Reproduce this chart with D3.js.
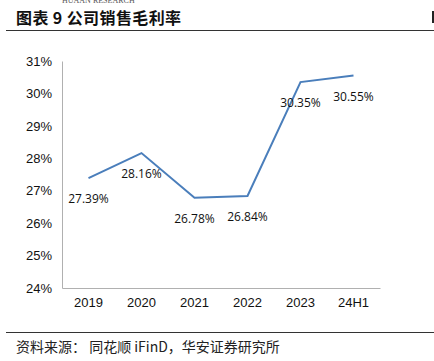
<!DOCTYPE html>
<html>
<head>
<meta charset="utf-8">
<script src="https://cdn.jsdelivr.net/npm/d3@7"></script>
<style>
  body { margin: 0; background: #fff; }
  svg { display: block; }
</style>
</head>
<body>
<svg id="chart" width="434" height="361"></svg>
<script>
// data
const years = ["2019", "2020", "2021", "2022", "2023", "24H1"];
const margins = [27.39, 28.16, 26.78, 26.84, 30.35, 30.55];
const yTicks = [24, 25, 26, 27, 28, 29, 30, 31];

const svg = d3.select("#chart");
const W = 434, H = 361;
const plot = { left: 62, right: 380, top: 61, bottom: 288 };

const cjk = "'Noto Sans CJK SC', sans-serif";
const latin = "'Liberation Sans', Arial, sans-serif";

// header (logo text is clipped by the top edge in the original too)
svg.append("text")
    .attr("x", 62).attr("y", 3)
    .attr("font-family", "'Liberation Serif', serif")
    .attr("font-size", 8)
    .attr("fill", "#555")
    .text("HUAAN RESEARCH");

svg.append("text")
    .attr("x", 16).attr("y", 24)
    .attr("font-family", cjk)
    .attr("font-weight", "bold")
    .attr("font-size", 16)
    .attr("letter-spacing", 0.4)
    .attr("fill", "#111")
    .text("图表 9 公司销售毛利率");

svg.append("rect")
    .attr("x", 432).attr("y", 11)
    .attr("width", 3).attr("height", 12)
    .attr("fill", "#222");

svg.append("line")
    .attr("x1", 6).attr("x2", W)
    .attr("y1", 30.5).attr("y2", 30.5)
    .attr("stroke", "#333").attr("stroke-width", 1.2);

// scales
const x = d3.scaleBand().domain(years).range([plot.left, plot.right]);
const y = d3.scaleLinear().domain([24, 31]).range([plot.bottom, plot.top]);

// y axis
const yAxis = svg.append("g")
    .attr("transform", `translate(${plot.left},0)`)
    .call(d3.axisLeft(y).tickValues(yTicks).tickSize(0).tickPadding(10)
        .tickFormat(d => d + "%"));
yAxis.select(".domain").attr("stroke", "#b0b0b0");
yAxis.selectAll("text")
    .attr("font-family", latin)
    .attr("font-size", 13)
    .attr("fill", "#111");

// x axis
const xAxis = svg.append("g")
    .attr("transform", `translate(0,${plot.bottom})`)
    .call(d3.axisBottom(x).tickSize(0).tickPadding(10));
xAxis.select(".domain").attr("stroke", "#b0b0b0");
xAxis.selectAll("text")
    .attr("font-family", latin)
    .attr("font-size", 13)
    .attr("fill", "#111");

// line
const pts = years.map((d, i) => ({ year: d, value: margins[i] }));
const line = d3.line()
    .x(d => x(d.year) + x.bandwidth() / 2)
    .y(d => y(d.value));

svg.append("path")
    .datum(pts)
    .attr("d", line)
    .attr("fill", "none")
    .attr("stroke", "#4a7ebb")
    .attr("stroke-width", 2);

svg.selectAll(".lbl")
    .data(pts)
    .enter()
    .append("text")
    .attr("class", "lbl")
    .attr("x", d => x(d.year) + x.bandwidth() / 2)
    .attr("y", d => y(d.value) + 25)
    .attr("text-anchor", "middle")
    .attr("font-family", "'Open Sans', sans-serif")
    .attr("font-size", 12)
    .attr("fill", "#111")
    .text(d => d.value.toFixed(2) + "%");

// footer
svg.append("line")
    .attr("x1", 6).attr("x2", W)
    .attr("y1", 332.5).attr("y2", 332.5)
    .attr("stroke", "#333").attr("stroke-width", 1);

svg.append("text")
    .attr("x", 16).attr("y", 352)
    .attr("font-family", cjk)
    .attr("font-size", 14)
    .attr("fill", "#222")
    .text("资料来源： 同花顺 iFinD，华安证券研究所");
</script>
</body>
</html>
